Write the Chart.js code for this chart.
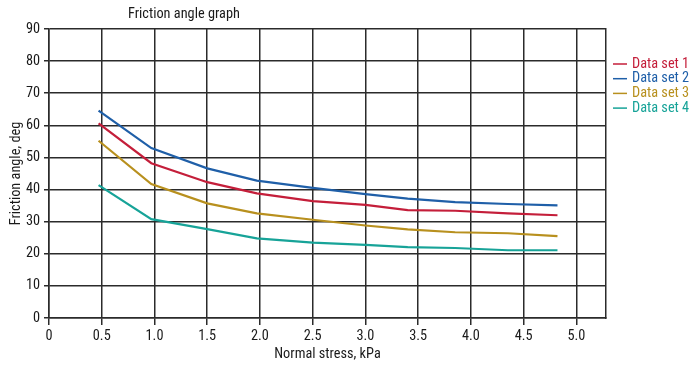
<!DOCTYPE html>
<html lang="en">
<head>
    <meta charset="UTF-8">
    <title>Friction angle graph</title>
    <script src="https://cdn.jsdelivr.net/npm/chart.js"></script>
    <style>
        html, body { margin: 0; padding: 0; background: #fff; }
        .chart-box { width: 700px; height: 368px; position: relative; }
    </style>
</head>
<body>
    <div class="chart-box">
        <canvas id="frictionChart"></canvas>
    </div>
    <script>
        // Data
        const chartTitle = 'Friction angle graph';
        const stress = [0.47, 0.97, 1.5, 1.97, 2.5, 3.0, 3.4, 3.85, 4.35, 4.82];
        const set1 = [60.6, 48.2, 42.3, 38.8, 36.4, 35.2, 33.6, 33.4, 32.6, 32.0];
        const set2 = [64.6, 52.9, 46.6, 42.8, 40.5, 38.6, 37.2, 36.1, 35.5, 35.1];
        const set3 = [55.2, 41.7, 35.7, 32.6, 30.6, 28.8, 27.6, 26.7, 26.4, 25.5];
        const set4 = [41.4, 30.8, 27.7, 24.8, 23.5, 22.8, 22.1, 21.8, 21.1, 21.1];
        const seriesNames = ['Data set 1', 'Data set 2', 'Data set 3', 'Data set 4'];
        const seriesColors = ['#c41e3a', '#1f5fa8', '#b8901e', '#17a398'];

        const FONT = "'Roboto Condensed', 'Liberation Sans Narrow', 'Roboto', sans-serif";
        const FSIZE = 14.3;
        const gridColor = '#2b2b2b';
        const textColor = '#1a1a1a';

        const toPoints = vals => vals.map((v, i) => ({ x: stress[i], y: v }));

        // title + legend drawn by hand (they sit outside the usual places)
        const sideLegend = {
            id: 'sideLegend',
            afterDraw(chart) {
                const ctx = chart.ctx;
                ctx.save();
                ctx.font = FSIZE + 'px ' + FONT;
                ctx.textBaseline = 'middle';
                ctx.fillStyle = textColor;
                ctx.textAlign = 'left';
                ctx.fillText(chartTitle, 128, 14);
                chart.data.datasets.forEach((ds, i) => {
                    const y = 64 + i * 14.7;
                    ctx.strokeStyle = ds.borderColor;
                    ctx.lineWidth = 1.5;
                    ctx.beginPath();
                    ctx.moveTo(613, y);
                    ctx.lineTo(627, y);
                    ctx.stroke();
                    ctx.fillStyle = ds.borderColor;
                    ctx.fillText(ds.label, 632, y);
                });
                ctx.restore();
            }
        };

        new Chart(document.getElementById('frictionChart'), {
            type: 'line',
            data: {
                datasets: [set1, set2, set3, set4].map((vals, i) => ({
                    label: seriesNames[i],
                    data: toPoints(vals),
                    borderColor: seriesColors[i],
                    backgroundColor: seriesColors[i],
                    borderWidth: 2.2,
                    pointRadius: 0,
                    tension: 0,
                    fill: false
                }))
            },
            options: {
                responsive: true,
                maintainAspectRatio: false,
                animation: false,
                layout: { padding: { top: 29, right: 94, bottom: 0, left: 0 } },
                plugins: {
                    legend: { display: false },
                    tooltip: { enabled: false }
                },
                scales: {
                    x: {
                        type: 'linear',
                        min: 0,
                        max: 5.28,
                        afterFit(scale) { scale.height = 50; },
                        ticks: {
                            stepSize: 0.5,
                            includeBounds: false,
                            color: textColor,
                            padding: 3,
                            maxRotation: 0,
                            font: { family: FONT, size: FSIZE },
                            callback: v => v === 0 ? '0' : v.toFixed(1)
                        },
                        grid: {
                            color: gridColor,
                            lineWidth: 1.5,
                            tickLength: 7
                        },
                        border: { color: gridColor, width: 1.5 },
                        title: {
                            display: true,
                            text: 'Normal stress, kPa',
                            color: textColor,
                            font: { family: FONT, size: FSIZE },
                            padding: { top: 0, bottom: 5 }
                        }
                    },
                    y: {
                        min: 0,
                        max: 90,
                        afterFit(scale) { scale.width = 49; },
                        ticks: {
                            stepSize: 10,
                            color: textColor,
                            padding: 4,
                            font: { family: FONT, size: FSIZE }
                        },
                        grid: {
                            color: gridColor,
                            lineWidth: 1.5,
                            tickLength: 5
                        },
                        border: { color: gridColor, width: 1.5 },
                        title: {
                            display: true,
                            text: 'Friction angle, deg',
                            color: textColor,
                            font: { family: FONT, size: FSIZE },
                            padding: { top: 8, bottom: 0 }
                        }
                    },
                    // only used for the right-hand frame line
                    yRight: {
                        position: 'right',
                        min: 0,
                        max: 90,
                        afterFit(scale) { scale.width = 0; },
                        ticks: { display: false },
                        grid: { display: false },
                        border: { color: gridColor, width: 1.5 }
                    }
                }
            },
            plugins: [sideLegend]
        });
    </script>
</body>
</html>
